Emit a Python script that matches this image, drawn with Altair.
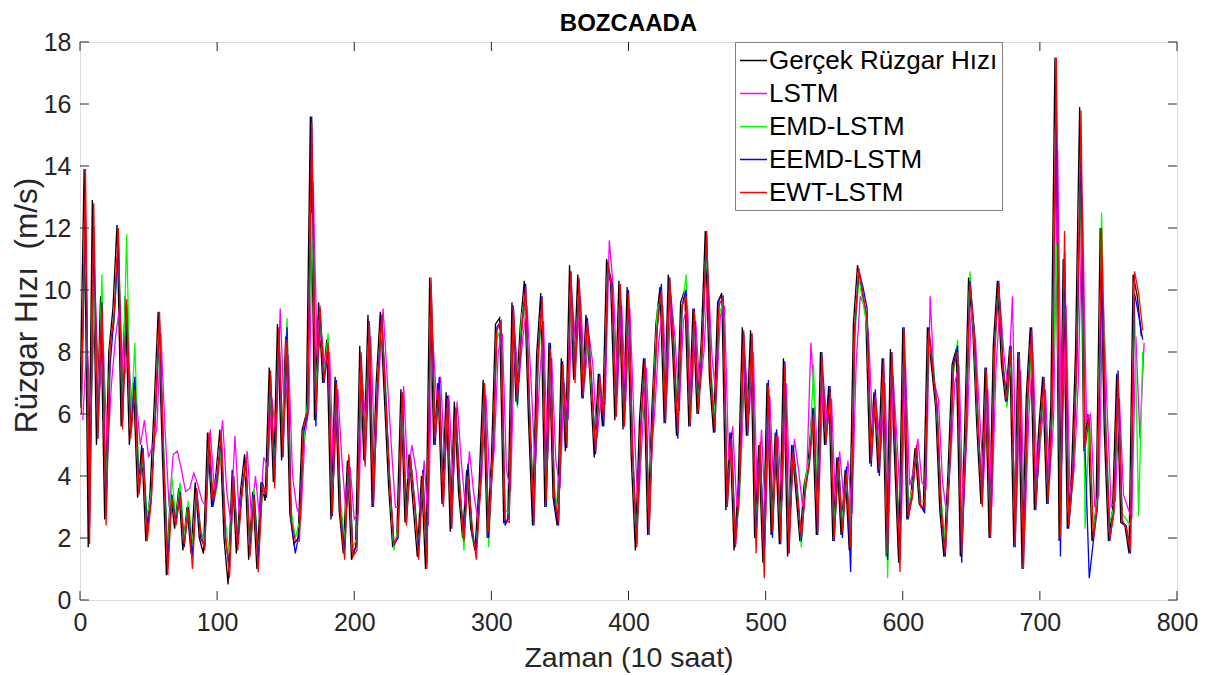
import altair as alt
import pandas as pd

# ---------------- data ----------------
series_names = ["Gerçek Rüzgar Hızı", "LSTM", "EMD-LSTM", "EEMD-LSTM", "EWT-LSTM"]
series_colors = ["#000000", "#FF00FF", "#00FF00", "#0000FF", "#FF0000"]
time_step = 3
series_offsets = [0, 2, 1, 1, 1]

gercek = [
    6.2, 13.9, 1.7, 12.9, 5.0, 9.8, 2.6, 8.0, 9.4, 12.1,
    5.6, 9.8, 5.0, 7.0, 3.3, 5.0, 1.9, 3.4, 6.2, 9.3,
    4.8, 0.8, 3.5, 2.3, 3.6, 1.6, 3.0, 1.5, 3.8, 2.0,
    1.5, 5.4, 3.0, 4.0, 5.5, 2.0, 0.5, 4.2, 1.5, 3.5,
    4.7, 1.3, 3.5, 1.0, 3.8, 3.2, 7.5, 3.8, 8.9, 4.5,
    8.5, 2.8, 1.8, 2.0, 5.5, 6.0, 15.6, 5.8, 9.6, 7.0,
    8.4, 2.6, 7.2, 2.9, 1.5, 4.5, 1.3, 1.7, 8.2, 4.5,
    9.2, 3.0, 7.0, 9.3, 6.5, 3.7, 1.7, 2.0, 6.8, 2.5,
    4.7, 3.0, 1.4, 4.0, 1.0, 10.4, 5.0, 7.0, 3.1, 6.7,
    2.2, 6.4, 3.5, 2.0, 4.2, 2.3, 1.6, 3.7, 7.1, 2.0,
    4.5, 8.9, 9.1, 2.5, 2.6, 9.6, 6.4, 8.8, 10.3, 5.9,
    2.4, 7.9, 9.9, 3.0, 8.3, 3.3, 2.4, 7.8, 4.8, 10.8,
    7.1, 10.5, 6.5, 9.2, 7.1, 4.6, 7.3, 5.6, 11.0, 10.2,
    5.8, 10.3, 5.5, 10.1, 4.6, 1.6, 5.8, 7.8, 2.1, 6.1,
    8.9, 10.1, 5.7, 10.5, 8.2, 5.3, 9.6, 10.0, 5.6, 9.4,
    6.0, 8.3, 11.9, 7.2, 5.4, 9.6, 9.9, 2.9, 5.4, 1.6,
    3.7, 8.8, 5.3, 8.7, 2.0, 5.0, 1.2, 7.0, 2.1, 5.4,
    1.8, 7.8, 1.4, 5.0, 3.5, 1.9, 3.7, 4.4, 6.2, 2.1,
    8.0, 5.0, 6.9, 1.9, 4.6, 2.1, 4.2, 1.6, 8.9, 10.8,
    10.0, 9.2, 4.4, 6.7, 4.1, 7.8, 1.4, 8.1, 4.6, 1.2,
    8.8, 2.6, 3.4, 4.9, 3.1, 2.9, 8.8, 7.5, 6.2, 2.9,
    1.4, 4.1, 7.6, 8.1, 1.4, 5.2, 10.4, 8.8, 5.6, 3.1,
    7.5, 2.0, 8.2, 10.3, 7.6, 6.4, 8.2, 1.7, 8.0, 1.0,
    6.5, 8.8, 2.9, 5.4, 7.2, 3.1, 6.3, 17.5, 1.9, 11.0,
    2.3, 4.0, 8.0, 15.9, 4.8, 6.0, 1.9, 3.0, 12.0, 5.4,
    1.9, 2.9, 7.3, 2.5, 2.4, 1.5, 10.5, 9.8, 8.5,
]

lstm = [
    5.8, 8.3, 6.0, 10.0, 6.5, 8.2, 4.7, 7.0, 8.5, 9.5,
    7.0, 8.0, 6.3, 6.5, 5.0, 5.8, 4.6, 5.0, 5.5, 8.6,
    5.5, 3.0, 4.7, 4.8, 4.2, 3.5, 3.6, 4.1, 3.7, 3.2,
    3.0, 5.5, 3.5, 4.5, 5.8, 3.5, 2.5, 5.3, 2.8, 3.9,
    4.8, 2.7, 4.0, 2.6, 4.6, 4.3, 6.5, 5.2, 9.4, 6.0,
    7.9, 4.0, 3.0, 2.6, 5.3, 6.2, 13.5, 7.8, 8.6, 7.4,
    8.0, 4.0, 6.8, 4.5, 2.8, 4.3, 2.6, 2.8, 7.0, 5.5,
    8.5, 4.6, 7.2, 9.4, 7.2, 5.0, 3.0, 3.0, 6.9, 3.9,
    5.0, 4.2, 2.8, 4.5, 2.4, 8.6, 6.5, 7.2, 4.4, 6.6,
    3.8, 6.4, 4.5, 3.0, 4.8, 3.5, 2.6, 4.0, 6.6, 3.6,
    4.8, 8.0, 8.6, 4.2, 3.5, 8.6, 7.0, 8.5, 9.5, 7.0,
    4.2, 7.0, 9.0, 4.5, 7.8, 4.5, 3.6, 7.0, 5.8, 9.6,
    8.0, 9.8, 7.0, 8.6, 7.6, 5.2, 6.6, 6.3, 11.6, 10.0,
    6.8, 9.5, 6.4, 9.4, 5.8, 2.8, 5.3, 7.5, 4.4, 6.0,
    8.3, 9.5, 6.6, 9.8, 8.4, 6.1, 9.0, 9.5, 6.5, 9.0,
    6.8, 8.0, 10.5, 7.8, 6.5, 9.2, 9.5, 4.5, 5.6, 3.0,
    4.4, 7.8, 6.0, 8.0, 3.2, 5.5, 2.6, 6.6, 3.5, 5.3,
    3.2, 7.0, 2.8, 5.2, 4.2, 3.0, 4.0, 8.3, 6.2, 3.5,
    7.2, 5.6, 6.5, 3.0, 4.8, 3.2, 4.5, 2.8, 7.6, 9.8,
    9.5, 8.6, 5.6, 6.2, 4.8, 7.0, 2.8, 7.2, 5.0, 2.6,
    7.6, 3.7, 4.2, 5.2, 3.8, 3.6, 9.8, 7.0, 6.5, 3.8,
    2.8, 4.6, 7.0, 7.6, 2.8, 5.5, 9.4, 8.4, 6.0, 3.9,
    6.8, 3.0, 7.5, 9.6, 7.8, 6.8, 9.8, 3.0, 7.4, 2.2,
    6.0, 8.0, 3.8, 5.4, 6.8, 3.8, 5.8, 14.5, 4.5, 9.5,
    3.4, 4.2, 7.0, 13.0, 5.8, 6.0, 3.0, 3.4, 10.0, 6.2,
    3.0, 3.2, 6.5, 3.4, 3.0, 2.6, 8.5, 5.2, 8.3,
]

emd_lstm = [
    6.5, 11.7, 3.0, 10.5, 5.5, 10.5, 3.2, 8.2, 9.0, 11.8,
    6.0, 11.8, 5.5, 8.3, 3.8, 4.5, 2.7, 3.5, 6.0, 8.5,
    5.0, 1.5, 4.0, 2.6, 3.8, 2.0, 3.2, 1.8, 3.4, 2.3,
    1.8, 5.0, 3.1, 3.6, 5.0, 2.5, 1.5, 3.8, 2.0, 3.5,
    4.2, 1.8, 3.6, 1.5, 3.4, 3.6, 6.8, 4.2, 8.5, 5.2,
    9.1, 2.9, 2.0, 2.5, 5.0, 6.4, 12.5, 6.8, 9.0, 7.3,
    8.6, 3.0, 6.8, 3.2, 1.9, 4.4, 1.7, 2.0, 7.6, 4.8,
    8.9, 3.4, 7.2, 8.8, 6.9, 3.6, 1.6, 2.4, 6.2, 2.6,
    4.4, 3.3, 1.7, 3.8, 1.4, 10.1, 5.4, 6.8, 3.4, 6.3,
    2.5, 6.0, 3.8, 1.6, 4.4, 2.0, 1.7, 3.6, 6.6, 1.7,
    4.8, 8.4, 8.8, 2.9, 2.8, 9.2, 6.2, 9.2, 9.7, 6.1,
    2.8, 7.5, 9.4, 3.5, 7.8, 3.6, 2.8, 7.4, 5.2, 10.2,
    7.4, 10.1, 6.8, 8.8, 6.8, 5.1, 7.0, 6.0, 10.8, 10.1,
    6.2, 9.9, 5.8, 9.5, 5.0, 2.0, 5.5, 7.5, 2.6, 6.4,
    9.4, 9.7, 6.0, 10.2, 8.4, 5.8, 9.2, 10.5, 6.0, 9.0,
    6.3, 8.6, 11.3, 7.5, 5.9, 9.2, 9.6, 3.2, 4.9, 2.0,
    3.2, 8.4, 5.6, 8.4, 2.3, 4.8, 1.5, 6.8, 2.5, 5.5,
    2.2, 7.4, 1.8, 5.0, 3.8, 1.7, 3.9, 4.6, 7.6, 2.5,
    7.4, 5.4, 6.5, 2.4, 4.4, 2.6, 3.8, 2.0, 8.4, 10.4,
    9.6, 8.8, 4.8, 6.4, 4.4, 7.4, 0.7, 7.8, 4.9, 1.6,
    8.5, 3.0, 3.6, 4.8, 3.2, 3.2, 8.2, 7.8, 6.0, 3.3,
    1.8, 4.3, 7.3, 8.4, 1.7, 5.4, 10.6, 8.4, 5.4, 3.4,
    7.0, 2.4, 7.8, 10.2, 7.8, 6.2, 7.8, 2.2, 7.5, 1.5,
    6.0, 8.4, 3.2, 5.1, 6.8, 3.5, 5.8, 11.5, 3.0, 11.0,
    2.4, 3.8, 7.6, 14.4, 2.3, 5.8, 2.2, 3.3, 12.5, 5.8,
    2.5, 3.0, 6.8, 2.8, 2.6, 2.4, 9.6, 2.7, 8.0,
]

eemd_lstm = [
    6.4, 12.5, 2.4, 12.0, 5.2, 9.6, 2.7, 7.6, 9.2, 11.5,
    5.8, 9.5, 5.4, 7.2, 3.5, 4.9, 2.2, 3.3, 6.0, 9.0,
    4.5, 1.2, 3.4, 2.5, 3.5, 1.7, 3.0, 1.4, 3.6, 2.0,
    1.7, 5.2, 3.0, 3.9, 5.2, 2.0, 1.0, 4.0, 1.8, 3.5,
    4.5, 1.6, 3.4, 1.3, 3.8, 3.3, 7.2, 3.9, 8.7, 4.6,
    8.8, 2.6, 1.5, 2.2, 5.4, 6.0, 15.6, 5.6, 9.4, 7.0,
    8.2, 2.7, 7.1, 2.8, 1.6, 4.6, 1.5, 1.8, 7.9, 4.4,
    9.0, 3.0, 7.0, 9.2, 6.5, 3.7, 1.8, 2.0, 6.7, 2.5,
    4.6, 3.1, 1.6, 4.2, 1.2, 10.2, 5.0, 7.2, 3.1, 6.6,
    2.3, 6.2, 3.5, 2.0, 4.4, 2.1, 1.6, 3.7, 7.0, 2.0,
    4.6, 8.8, 9.0, 2.4, 2.7, 9.5, 6.3, 8.7, 10.2, 5.8,
    2.4, 7.9, 9.8, 3.0, 8.3, 3.2, 2.4, 7.7, 4.9, 10.6,
    7.2, 10.3, 6.5, 9.1, 7.2, 4.7, 7.3, 5.6, 10.8, 10.2,
    5.9, 10.1, 5.6, 10.0, 4.7, 1.8, 5.7, 7.8, 2.1, 6.2,
    8.8, 10.2, 5.7, 10.4, 8.2, 5.2, 9.5, 10.0, 5.6, 9.4,
    6.0, 8.4, 11.8, 7.2, 5.4, 9.7, 9.8, 3.0, 5.4, 1.8,
    3.8, 8.6, 5.3, 8.6, 2.0, 5.0, 1.4, 7.1, 2.0, 5.5,
    1.8, 7.7, 1.5, 5.0, 3.5, 1.9, 3.6, 4.4, 6.2, 2.1,
    8.0, 5.0, 6.9, 1.9, 4.6, 2.0, 4.3, 0.9, 8.8, 10.6,
    10.1, 9.4, 4.3, 6.8, 4.0, 7.8, 1.3, 8.0, 4.5, 1.3,
    8.8, 2.6, 3.4, 4.9, 3.1, 2.8, 8.8, 7.5, 6.2, 2.9,
    1.4, 4.1, 7.6, 8.2, 1.2, 5.2, 10.3, 8.8, 5.6, 3.1,
    7.5, 2.0, 8.2, 10.3, 7.6, 6.4, 8.2, 1.7, 8.0, 1.1,
    6.5, 8.8, 2.9, 5.4, 7.2, 3.1, 6.3, 16.5, 1.4, 11.2,
    2.3, 4.0, 8.0, 14.6, 4.8, 0.7, 1.9, 3.0, 10.8, 5.4,
    1.9, 2.9, 7.4, 2.5, 2.4, 1.5, 9.9, 9.2, 8.4,
]

ewt_lstm = [
    6.0, 13.9, 1.8, 12.8, 5.2, 9.5, 2.4, 8.2, 9.3, 12.0,
    5.5, 9.7, 5.2, 6.8, 3.4, 4.8, 1.9, 3.2, 6.0, 9.3,
    4.6, 0.8, 3.3, 2.4, 3.4, 1.8, 2.9, 1.0, 3.6, 2.2,
    1.6, 5.4, 3.2, 3.8, 5.4, 2.2, 0.7, 4.0, 1.6, 3.3,
    4.6, 1.4, 3.3, 0.9, 3.7, 3.4, 7.4, 3.6, 8.8, 4.7,
    8.4, 2.6, 1.9, 1.9, 5.6, 6.1, 15.4, 6.0, 9.5, 7.1,
    8.3, 2.8, 7.0, 2.7, 1.3, 4.7, 1.4, 1.6, 8.0, 4.3,
    9.0, 3.1, 6.8, 9.2, 6.4, 3.8, 1.8, 2.1, 6.7, 2.4,
    4.6, 3.2, 1.3, 4.1, 1.0, 10.4, 5.2, 6.8, 3.0, 6.5,
    2.3, 6.2, 3.6, 1.9, 4.0, 2.4, 1.3, 3.5, 7.0, 2.2,
    4.4, 8.7, 9.0, 2.6, 2.5, 9.5, 6.5, 8.6, 10.1, 6.0,
    2.5, 7.8, 9.7, 3.2, 8.1, 3.4, 2.5, 7.6, 5.0, 10.6,
    7.0, 10.4, 6.6, 9.0, 7.0, 4.8, 7.2, 5.8, 10.9, 10.0,
    5.9, 10.2, 5.6, 9.9, 4.8, 1.7, 5.6, 7.7, 2.2, 6.0,
    8.8, 10.0, 5.8, 10.4, 8.0, 5.4, 9.5, 9.8, 5.7, 9.3,
    6.1, 8.2, 11.9, 7.1, 5.5, 9.5, 9.8, 3.0, 5.2, 1.7,
    3.6, 8.7, 5.4, 8.6, 1.5, 5.1, 0.7, 6.9, 2.2, 5.3,
    1.9, 7.6, 1.5, 4.8, 3.6, 2.0, 3.5, 4.5, 6.0, 2.2,
    7.9, 5.1, 6.7, 2.0, 4.5, 2.2, 4.1, 1.7, 8.8, 10.7,
    9.9, 9.1, 4.5, 6.6, 4.2, 7.7, 1.5, 8.0, 4.7, 0.9,
    8.7, 2.7, 3.3, 5.0, 3.0, 3.0, 8.7, 7.4, 6.3, 3.0,
    1.5, 4.0, 7.5, 8.0, 1.5, 5.1, 10.2, 8.7, 5.7, 3.0,
    7.4, 2.1, 8.1, 10.2, 7.5, 6.5, 8.1, 1.8, 7.9, 1.0,
    6.4, 8.7, 3.0, 5.3, 7.1, 3.2, 6.2, 17.5, 2.0, 11.9,
    2.4, 3.9, 7.9, 15.8, 4.9, 5.9, 2.0, 3.1, 12.0, 5.5,
    2.0, 2.8, 7.2, 2.6, 2.3, 1.6, 10.6, 9.9, 8.7,
]

x_ticks = [0, 100, 200, 300, 400, 500, 600, 700, 800]
y_ticks = [0, 2, 4, 6, 8, 10, 12, 14, 16, 18]

all_series = [gercek, lstm, emd_lstm, eemd_lstm, ewt_lstm]

rows = []
for name, vals, off in zip(series_names, all_series, series_offsets):
    for i, v in enumerate(vals):
        rows.append({"t": i * time_step + off, "v": v, "s": name})
df = pd.DataFrame(rows)

# ---------------- chart ----------------
W, H = 1097, 558
FONT = "Liberation Sans"
TICK = 9

xscale = alt.Scale(domain=[0, 800], nice=False, zero=False)
yscale = alt.Scale(domain=[0, 18], nice=False, zero=False)
cscale = alt.Scale(domain=series_names, range=series_colors)

x_axis = alt.Axis(
    values=x_ticks,
    grid=False,
    ticks=False,
    tickSize=0,
    domain=False,
    labelFontSize=25,
    labelFont=FONT,
    labelColor="#262626",
    labelPadding=10,
    labelFlush=False,
    title="Zaman (10 saat)",
    titleFontSize=28.5,
    titleFont=FONT,
    titleFontWeight="normal",
    titleColor="#262626",
    titlePadding=8,
)
y_axis = alt.Axis(
    values=y_ticks,
    grid=False,
    ticks=False,
    tickSize=0,
    domain=False,
    labelFontSize=25,
    labelFont=FONT,
    labelColor="#262626",
    labelPadding=9,
    labelFlush=False,
    title="Rüzgar Hızı\u00a0\u00a0(m/s)",
    titleFontSize=31.5,
    titleFont=FONT,
    titleFontWeight="normal",
    titleColor="#262626",
    titleX=-37,
    titleY=263,
)

legend = alt.Legend(
    title=None,
    orient="none",
    legendX=655,
    legendY=0,
    symbolType="stroke",
    symbolSize=729,
    symbolStrokeWidth=1.5,
    labelFontSize=26,
    labelFont=FONT,
    labelColor="#000000",
    labelLimit=0,
    labelOffset=1,
    rowPadding=5,
    padding=4,
    strokeColor="#7f7f7f",
    fillColor="#ffffff",
)

X = alt.X("t:Q", scale=xscale, axis=x_axis)
Y = alt.Y("v:Q", scale=yscale, axis=y_axis)

layers = []
for name in series_names:
    layer = (
        alt.Chart(df)
        .transform_filter(alt.datum.s == name)
        .mark_line(strokeWidth=1.3, clip=True)
        .encode(
            x=X,
            y=Y,
            color=alt.Color("s:N", scale=cscale, sort=series_names, legend=legend),
        )
    )
    layers.append(layer)

ytick_df = pd.DataFrame({"v": y_ticks})
xtick_df = pd.DataFrame({"t": x_ticks})

ytick_left = alt.Chart(ytick_df).mark_rule(color="#262626", strokeWidth=1).encode(
    y=Y, x=alt.value(0), x2=alt.value(TICK)
)
ytick_right = alt.Chart(ytick_df).mark_rule(color="#262626", strokeWidth=1).encode(
    y=Y, x=alt.value(W - TICK), x2=alt.value(W)
)
xtick_bottom = alt.Chart(xtick_df).mark_rule(color="#262626", strokeWidth=1).encode(
    x=X, y=alt.value(H - TICK), y2=alt.value(H)
)
xtick_top = alt.Chart(xtick_df).mark_rule(color="#262626", strokeWidth=1).encode(
    x=X, y=alt.value(0), y2=alt.value(TICK)
)

chart = (
    alt.layer(*layers, ytick_left, ytick_right, xtick_bottom, xtick_top)
    .properties(
        width=W,
        height=H,
        padding={"left": 80, "top": 42, "right": 30, "bottom": 75},
        autosize=alt.AutoSizeParams(type="none"),
        title=alt.TitleParams(
            "BOZCAADA",
            fontSize=24,
            font=FONT,
            fontWeight="bold",
            color="#000000",
            anchor="middle",
            frame="group",
            offset=8,
            dy=14,
        ),
    )
    .configure_view(stroke="#262626", strokeWidth=1)
    .configure(background="white")
)

chart.save("out.html", embed_options={"renderer": "svg", "actions": False})
